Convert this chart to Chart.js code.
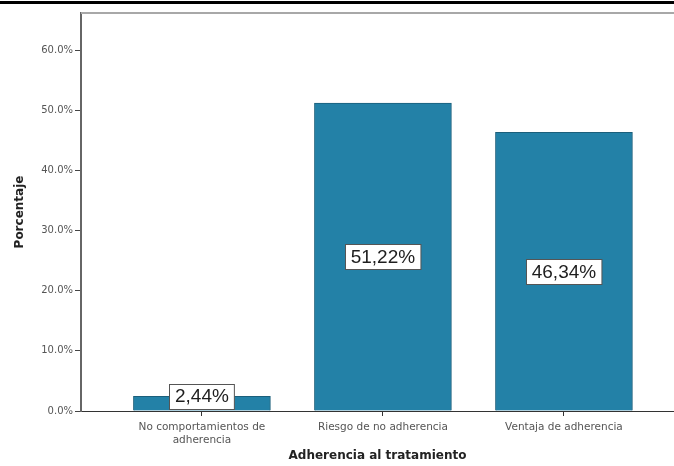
<!DOCTYPE html>
<html>
<head>
<meta charset="utf-8">
<script src="https://cdn.jsdelivr.net/npm/chart.js@4/dist/chart.umd.min.js"></script>
<style>
  html, body { margin: 0; padding: 0; background: #fff; overflow: hidden; }
  #wrap { position: relative; width: 674px; height: 466px; }
  #rule { position: absolute; left: 0; top: 1px; width: 674px; height: 3px; background: #000; }
  canvas { position: absolute; left: 0; top: 0; }
</style>
</head>
<body>
<div id="wrap">
  <canvas id="c" width="674" height="466"></canvas>
  <div id="rule"></div>
</div>
<script>
// Adherencia al tratamiento — distribución porcentual
const categories = [
  ['No comportamientos de', 'adherencia'],
  'Riesgo de no adherencia',
  'Ventaja de adherencia'
];
const percentages = [2.44, 51.22, 46.34];
const yTicks = [0, 10, 20, 30, 40, 50, 60];

const fmtComma = v => v.toFixed(2).replace('.', ',') + '%';

// white boxed value labels in the middle of each bar
const valueBoxes = {
  id: 'valueBoxes',
  afterDatasetsDraw(chart) {
    const ctx = chart.ctx;
    const meta = chart.getDatasetMeta(0);
    ctx.save();
    ctx.font = '19px "Liberation Sans", Arial, sans-serif';
    ctx.textAlign = 'center';
    ctx.textBaseline = 'middle';
    meta.data.forEach((bar, i) => {
      const txt = fmtComma(percentages[i]);
      const w = ctx.measureText(txt).width + 11;
      const h = 25;
      let cy = (bar.y + bar.base) / 2;
      if (cy + h / 2 > bar.base - 2) cy = bar.base - 2 - h / 2;
      const x0 = Math.round(bar.x - w / 2) + 0.5;
      const y0 = Math.round(cy - h / 2) + 0.5;
      ctx.fillStyle = '#ffffff';
      ctx.fillRect(x0, y0, w, h);
      ctx.strokeStyle = '#555555';
      ctx.lineWidth = 1;
      ctx.strokeRect(x0, y0, w, h);
      ctx.fillStyle = '#1e1e1e';
      ctx.fillText(txt, bar.x, cy + 1);
    });
    ctx.restore();
  }
};

// light frame line along the top of the plot area
const topFrame = {
  id: 'topFrame',
  beforeDatasetsDraw(chart) {
    const { ctx, chartArea } = chart;
    ctx.save();
    ctx.strokeStyle = '#a8a8a8';
    ctx.lineWidth = 2;
    ctx.beginPath();
    ctx.moveTo(chartArea.left, chartArea.top);
    ctx.lineTo(chart.width, chartArea.top);
    ctx.stroke();
    ctx.restore();
  }
};

new Chart(document.getElementById('c'), {
  type: 'bar',
  data: {
    datasets: [{
      data: percentages.map((v, i) => ({ x: i, y: v })),
      backgroundColor: '#2381a7',
      borderColor: '#1b5f7b',
      borderWidth: 1,
      barThickness: 137
    }]
  },
  options: {
    responsive: false,
    animation: false,
    events: [],
    layout: { padding: { top: 13, right: 0, bottom: 0, left: 0 } },
    plugins: { legend: { display: false }, tooltip: { enabled: false } },
    scales: {
      x: {
        type: 'linear',
        offset: false,
        min: -0.668,
        max: 2.608,
        afterBuildTicks: s => { s.ticks = categories.map((_, i) => ({ value: i })); },
        afterFit: s => { s.height = 55; },
        grid: { display: true, offset: false, drawOnChartArea: false, drawTicks: true, tickLength: 5, tickColor: '#333', color: '#333' },
        border: { display: true, color: '#333', width: 1 },
        ticks: {
          autoSkip: false,
          maxRotation: 0,
          padding: 5,
          color: '#555',
          font: { family: '"DejaVu Sans", sans-serif', size: 10.5 },
          callback: v => categories[v]
        },
        title: {
          display: true,
          text: 'Adherencia al tratamiento',
          color: '#222',
          font: { family: '"DejaVu Sans", sans-serif', size: 12, weight: 'bold' },
          padding: { top: 0, bottom: 3 }
        }
      },
      y: {
        min: 0,
        max: 66.2,
        afterBuildTicks: s => { s.ticks = yTicks.map(v => ({ value: v })); },
        afterFit: s => { s.width = 81; },
        grid: { display: true, drawOnChartArea: false, drawTicks: true, tickLength: 6, tickColor: '#444' },
        border: { display: true, color: '#666', width: 2 },
        ticks: {
          padding: 2,
          color: '#555',
          font: { family: '"DejaVu Sans", sans-serif', size: 10 },
          callback: v => v.toFixed(1) + '%'
        },
        title: {
          display: true,
          text: 'Porcentaje',
          color: '#222',
          font: { family: '"DejaVu Sans", sans-serif', size: 12, weight: 'bold' },
          padding: { top: 13, bottom: 0 }
        }
      }
    }
  },
  plugins: [topFrame, valueBoxes]
});
</script>
</body>
</html>
